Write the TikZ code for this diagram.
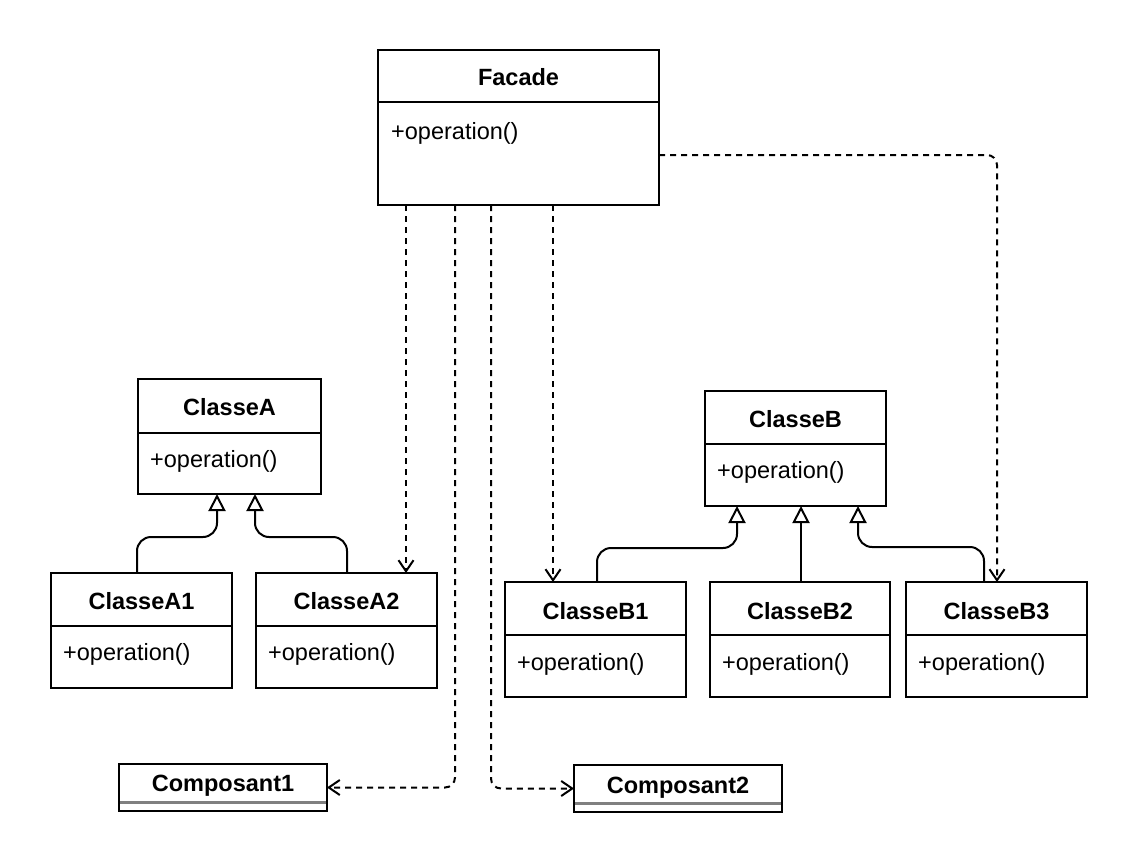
\documentclass[tikz,border=0pt]{standalone}
\usepackage{fontspec}
\setmainfont{Liberation Sans}
\usetikzlibrary{arrows.meta,calc}
\begin{document}
\begin{tikzpicture}[x=1pt,y=-1pt,
  cls/.style={draw=black, line width=2pt, fill=white, anchor=north west, inner sep=0pt, outer sep=0pt},
  ttl/.style={font=\fontsize{23.5}{27}\selectfont\bfseries, inner sep=0pt},
  opr/.style={font=\fontsize{23.5}{27}\selectfont, anchor=west, inner sep=0pt},
  dep/.style={line width=2pt, dash pattern=on 6pt off 5pt, -{Straight Barb[length=11pt,width=15pt,line width=2pt]}},
  inh/.style={line width=2pt, -{Triangle[open,length=17pt,width=17pt,fill=white,line width=2pt]}},
  divl/.style={line width=2pt}]
\useasboundingbox (0,0) rectangle (1140,864);
\fill[white] (0,0) rectangle (1140,864);

% Facade
\node[cls, minimum width=281pt, minimum height=155pt] (facade) at (378,50) {};
\draw[divl] (378,102) -- (659,102);
\node[ttl] (facadet) at (518.5,77) {Facade};
\node[opr] (facadeo) at (391,133) {+operation()};

% ClasseA
\node[cls, minimum width=183pt, minimum height=115pt] (ca) at (138,379) {};
\draw[divl] (138,433) -- (321,433);
\node[ttl] (cat) at (229.5,407) {ClasseA};
\node[opr] (cao) at (150,461) {+operation()};

% ClasseA1
\node[cls, minimum width=181pt, minimum height=115pt] (ca1) at (51,573) {};
\draw[divl] (51,626) -- (232,626);
\node[ttl] (ca1t) at (141.5,601) {ClasseA1};
\node[opr] (ca1o) at (63,654) {+operation()};

% ClasseA2
\node[cls, minimum width=181pt, minimum height=115pt] (ca2) at (256,573) {};
\draw[divl] (256,626) -- (437,626);
\node[ttl] (ca2t) at (346.5,601) {ClasseA2};
\node[opr] (ca2o) at (268,654) {+operation()};

% ClasseB
\node[cls, minimum width=181pt, minimum height=115pt] (cb) at (705,391) {};
\draw[divl] (705,444) -- (886,444);
\node[ttl] (cbt) at (795.5,419) {ClasseB};
\node[opr] (cbo) at (717,472) {+operation()};

% ClasseB1
\node[cls, minimum width=181pt, minimum height=115pt] (cb1) at (505,582) {};
\draw[divl] (505,635) -- (686,635);
\node[ttl] (cb1t) at (595.5,611) {ClasseB1};
\node[opr] (cb1o) at (517,664) {+operation()};

% ClasseB2
\node[cls, minimum width=180pt, minimum height=115pt] (cb2) at (710,582) {};
\draw[divl] (710,635) -- (890,635);
\node[ttl] (cb2t) at (800,611) {ClasseB2};
\node[opr] (cb2o) at (722,664) {+operation()};

% ClasseB3
\node[cls, minimum width=181pt, minimum height=115pt] (cb3) at (906,582) {};
\draw[divl] (906,635) -- (1087,635);
\node[ttl] (cb3t) at (996.5,611) {ClasseB3};
\node[opr] (cb3o) at (918,664) {+operation()};

% Composant1
\node[cls, minimum width=208pt, minimum height=47pt] (c1) at (119,764) {};
\draw[line width=3pt, gray] (120,802) -- (326,802);
\node[ttl] (c1t) at (223,786) {Composant1};

% Composant2
\node[cls, minimum width=208pt, minimum height=47pt] (c2) at (574,765) {};
\draw[line width=3pt, gray] (575,803) -- (781,803);
\node[ttl] (c2t) at (678,788) {Composant2};

% Inheritance
\draw[inh] (137,0 |- ca1.north) [rounded corners=14pt] |- (217,537) [sharp corners] -- (217,0 |- ca.south);
\draw[inh] (347,0 |- ca2.north) [rounded corners=14pt] |- (255,537) [sharp corners] -- (255,0 |- ca.south);
\draw[inh] (597,0 |- cb1.north) [rounded corners=14pt] |- (737,548) [sharp corners] -- (737,0 |- cb.south);
\draw[inh] (801,0 |- cb2.north) -- (801,0 |- cb.south);
\draw[inh] (984,0 |- cb3.north) [rounded corners=14pt] |- (858,547) [sharp corners] -- (858,0 |- cb.south);

% Dependencies
\draw[dep] (406,0 |- facade.south) -- (406,0 |- ca2.north);
\draw[dep] (553,0 |- facade.south) -- (553,0 |- cb1.north);
\draw[dep] (facade.east |- 0,155) [rounded corners=10pt] -| (997,545) [sharp corners] -- (997,0 |- cb3.north);
\draw[dep] (455,0 |- facade.south) [rounded corners=10pt] |- (400,0 |- c1.east) [sharp corners] -- (c1.east);
\draw[dep] (491,0 |- facade.south) [rounded corners=10pt] |- (540,0 |- c2.west) [sharp corners] -- (c2.west);
\end{tikzpicture}
\end{document}
